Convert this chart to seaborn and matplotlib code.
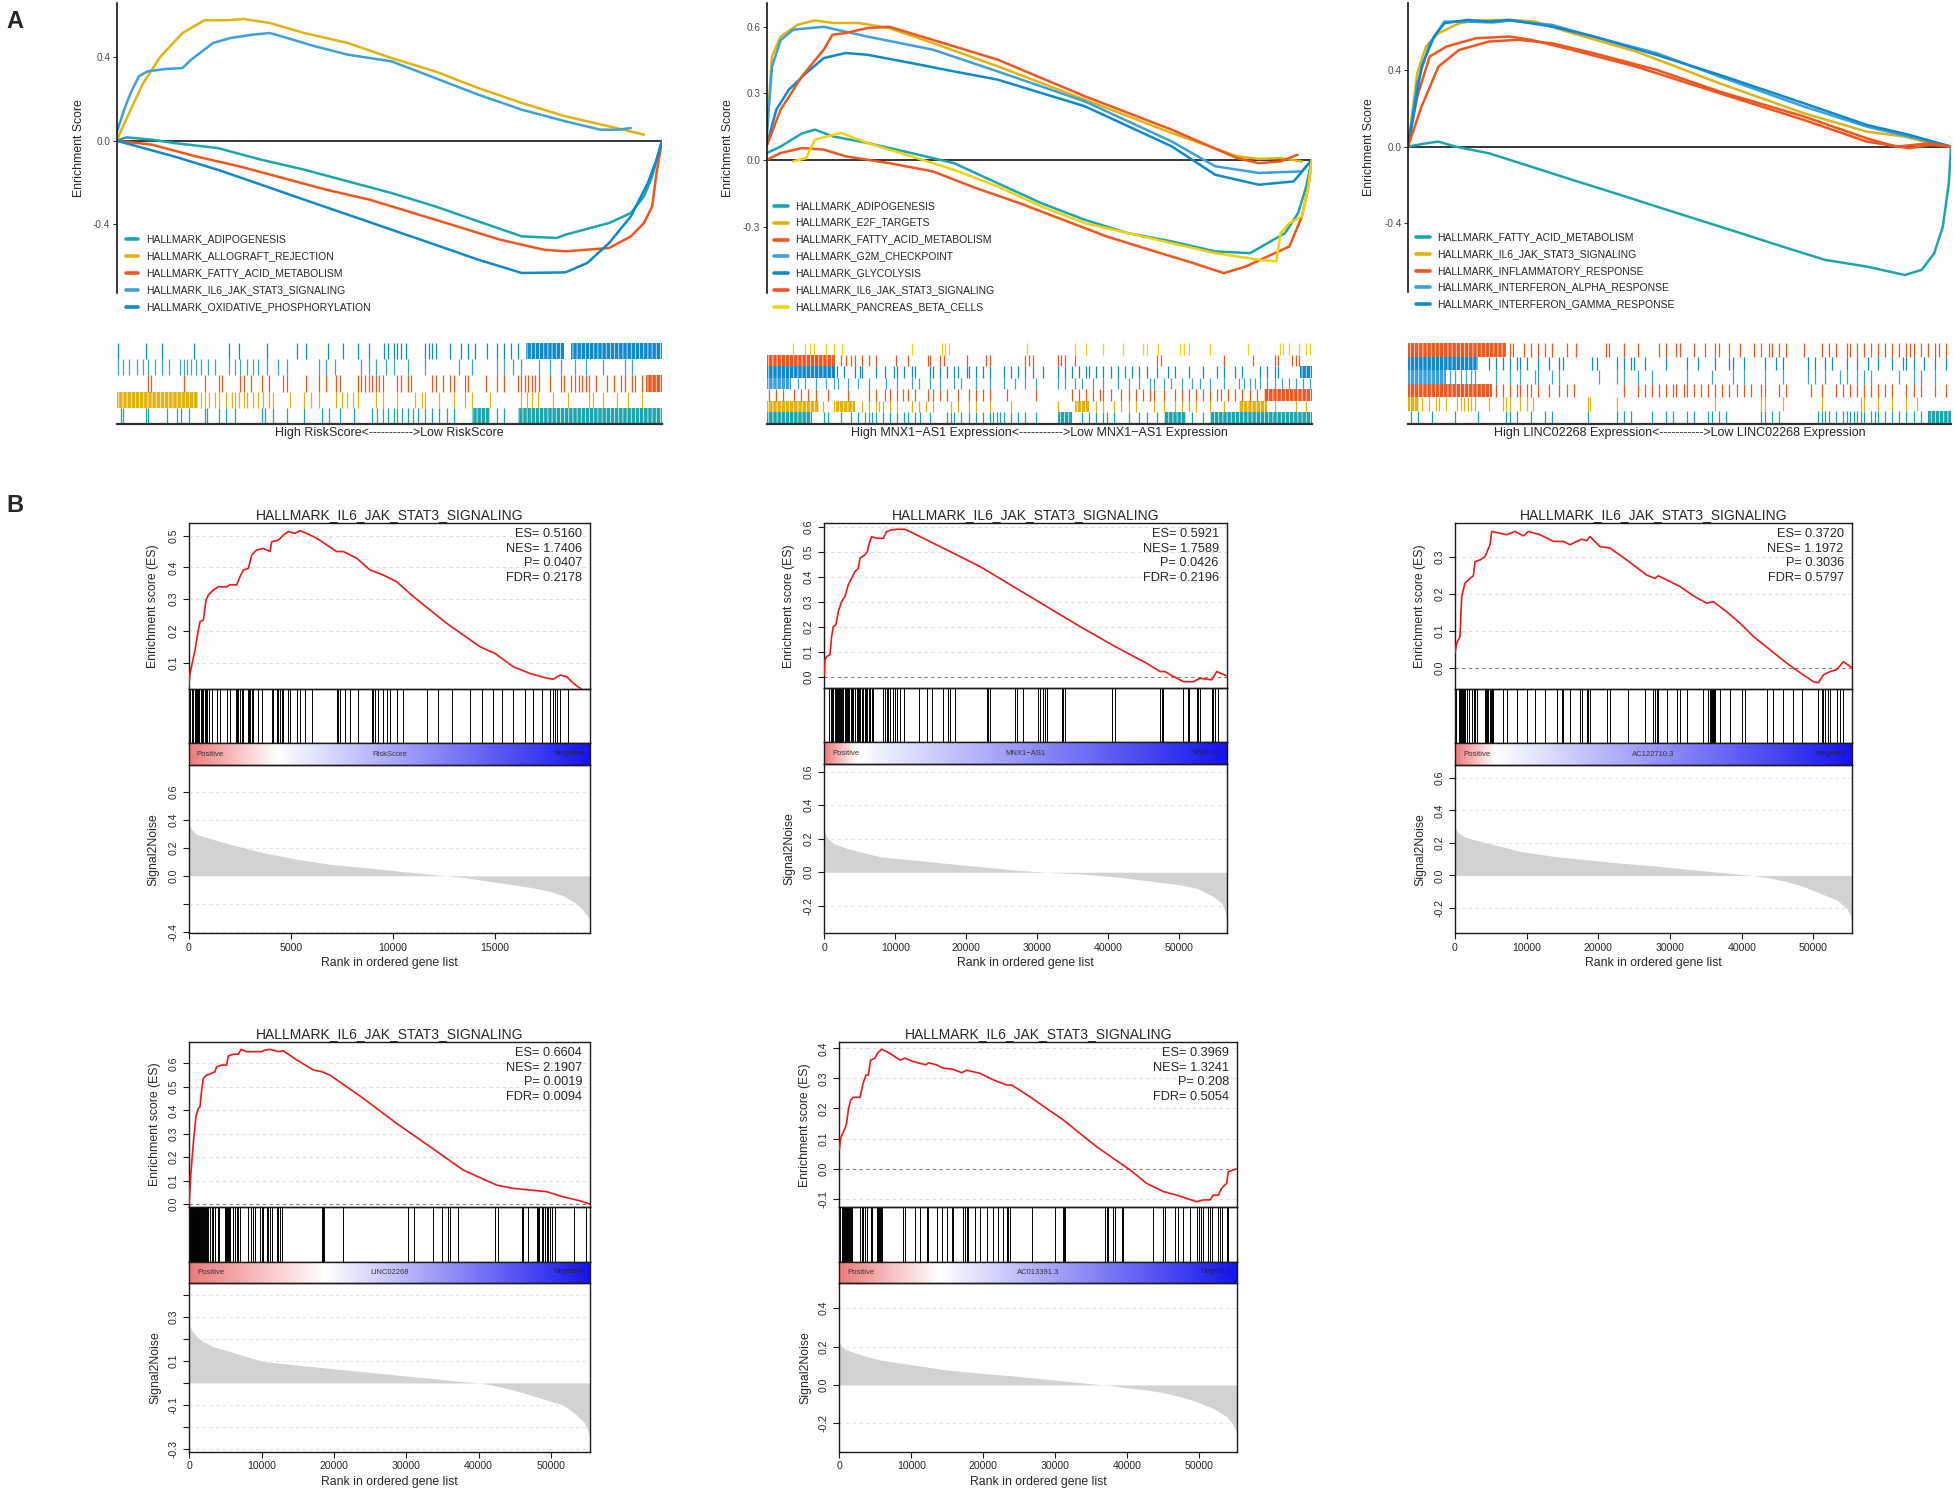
import numpy as np
import matplotlib
matplotlib.use("Agg")
import matplotlib.pyplot as plt
import seaborn as sns
from matplotlib.colors import LinearSegmentedColormap
from matplotlib.lines import Line2D

W, H = 1955, 1495

TEAL = "#1BA6AE"
GOLD = "#E2B30E"
ORANGE = "#F0561D"
LIGHTBLUE = "#3BA0DC"
BLUE = "#0E89CC"
YELLOW = "#F4D10B"

# ----------------------------------------------------------------------
# Panel A data: running ES vs position in ranked list (percent)
# ----------------------------------------------------------------------
A1_ADIPO_P = [0, 1.8, 6.5, 10.5, 18.5, 26.5, 34.4, 42.4, 50.4, 58.4, 66.3, 74.3, 80.7, 82.3, 90.3, 94.3, 96.7, 98.2, 100]
A1_ADIPO_ES = [0, 0.016, 0.005, -0.011, -0.035, -0.091, -0.139, -0.195, -0.251, -0.315, -0.387, -0.459, -0.467, -0.451, -0.395, -0.347, -0.267, -0.171, 0]
A1_ALLO_P = [0, 2.6, 4.9, 8.1, 12.1, 16.1, 20.1, 23.3, 28.1, 34.4, 42.4, 50.4, 58.4, 66.3, 74.3, 82.3, 90.3, 96.7]
A1_ALLO_ES = [0, 0.149, 0.277, 0.405, 0.517, 0.578, 0.578, 0.584, 0.565, 0.517, 0.469, 0.397, 0.333, 0.253, 0.181, 0.117, 0.069, 0.029]
A1_FATTY_P = [0, 6.5, 14.5, 22.5, 30.5, 38.4, 46.4, 54.4, 62.4, 70.3, 78.3, 82.3, 90.3, 94.3, 96.7, 98.2, 99.0, 100]
A1_FATTY_ES = [0, -0.019, -0.075, -0.123, -0.179, -0.235, -0.283, -0.347, -0.411, -0.475, -0.523, -0.531, -0.515, -0.459, -0.395, -0.315, -0.155, 0]
A1_IL6_P = [0, 1.4, 2.6, 4.1, 5.7, 8.9, 12.1, 13.7, 16.1, 17.7, 20.9, 24.9, 28.1, 31.3, 36.4, 42.4, 50.4, 58.4, 66.3, 74.3, 82.3, 88.7, 91.9, 94.3]
A1_IL6_ES = [0.037, 0.149, 0.229, 0.309, 0.333, 0.344, 0.349, 0.389, 0.437, 0.469, 0.493, 0.509, 0.517, 0.493, 0.453, 0.413, 0.381, 0.301, 0.221, 0.149, 0.093, 0.053, 0.053, 0.061]
A1_OXPHOS_P = [0, 10.5, 18.5, 26.5, 34.4, 42.4, 50.4, 58.4, 66.3, 74.3, 82.3, 86.3, 90.3, 94.3, 97.4, 99.0, 100]
A1_OXPHOS_ES = [0, -0.075, -0.139, -0.211, -0.283, -0.355, -0.427, -0.499, -0.571, -0.635, -0.632, -0.587, -0.491, -0.363, -0.203, -0.091, 0]

A2_ADIPO_P = [0, 2.6, 6.5, 8.9, 12.1, 18.5, 26.5, 34.4, 42.4, 50.4, 58.4, 66.3, 74.3, 82.3, 88.7, 91.9, 95.1, 97.5, 99.0, 100]
A2_ADIPO_ES = [0.031, 0.061, 0.12, 0.137, 0.107, 0.077, 0.032, -0.014, -0.104, -0.194, -0.269, -0.329, -0.366, -0.411, -0.419, -0.374, -0.329, -0.239, -0.119, 0]
A2_E2F_P = [0, 1.0, 2.6, 5.7, 8.9, 12.1, 16.9, 22.5, 30.5, 42.4, 58.4, 74.3, 86.3, 90.3, 94.3, 98.2]
A2_E2F_ES = [0.092, 0.467, 0.556, 0.609, 0.629, 0.617, 0.617, 0.594, 0.527, 0.422, 0.272, 0.122, 0.017, 0.005, 0.009, -0.006]
A2_FATTY_P = [0, 2.6, 6.5, 10.5, 14.5, 22.5, 30.5, 38.4, 46.4, 54.4, 62.4, 70.3, 78.3, 83.9, 87.9, 91.9, 95.9, 98.2, 99.4, 100]
A2_FATTY_ES = [0, 0.032, 0.054, 0.047, 0.017, -0.014, -0.051, -0.126, -0.194, -0.269, -0.344, -0.404, -0.464, -0.509, -0.479, -0.434, -0.389, -0.254, -0.119, 0]
A2_G2M_P = [0, 1.0, 2.6, 4.9, 10.5, 18.5, 30.5, 42.4, 58.4, 74.3, 82.3, 90.3, 98.2, 100]
A2_G2M_ES = [0.092, 0.42, 0.54, 0.587, 0.6, 0.556, 0.497, 0.399, 0.264, 0.084, -0.028, -0.058, -0.051, 0]
A2_GLYCO_P = [0, 1.8, 4.1, 7.3, 10.5, 14.5, 18.5, 26.5, 34.4, 42.4, 58.4, 74.3, 82.3, 90.3, 96.7, 100]
A2_GLYCO_ES = [0.062, 0.227, 0.317, 0.392, 0.459, 0.482, 0.474, 0.437, 0.399, 0.362, 0.242, 0.062, -0.066, -0.111, -0.096, 0]
A2_IL6_P = [0, 2.6, 6.5, 10.5, 12.1, 14.5, 18.5, 22.5, 30.5, 42.4, 58.4, 74.3, 86.3, 90.3, 94.3, 97.4]
A2_IL6_ES = [0.062, 0.227, 0.377, 0.497, 0.564, 0.572, 0.594, 0.6, 0.541, 0.452, 0.287, 0.137, 0.009, -0.014, -0.006, 0.024]
A2_PANC_P = [4.9, 7.3, 8.9, 13.7, 18.5, 26.5, 34.4, 42.4, 50.4, 58.4, 66.3, 74.3, 82.3, 90.3, 93.5, 94.3, 95.9, 98.2, 99.4, 100]
A2_PANC_ES = [-0.006, 0.009, 0.092, 0.122, 0.077, 0.017, -0.044, -0.119, -0.209, -0.284, -0.329, -0.374, -0.419, -0.449, -0.456, -0.329, -0.284, -0.254, -0.119, 0]

A3_FATTY_P = [0, 3.3, 5.6, 8.7, 14.9, 22.6, 30.3, 38.1, 45.8, 53.6, 61.3, 69.0, 76.8, 84.5, 91.5, 94.6, 96.9, 98.5, 99.6, 100]
A3_FATTY_ES = [0, 0.017, 0.026, 0, -0.035, -0.104, -0.174, -0.243, -0.313, -0.383, -0.452, -0.522, -0.591, -0.626, -0.67, -0.643, -0.557, -0.417, -0.191, 0]
A3_IL6_P = [0, 1.7, 3.3, 5.6, 9.4, 12.5, 18.7, 23.4, 30.3, 42.0, 57.4, 72.9, 84.5, 91.5, 96.1, 100]
A3_IL6_ES = [0, 0.383, 0.522, 0.591, 0.643, 0.657, 0.661, 0.652, 0.591, 0.496, 0.33, 0.174, 0.078, 0.052, 0.017, 0]
A3_INFL_P = [0, 1.7, 4.0, 7.1, 12.5, 18.7, 22.6, 30.3, 42.0, 57.4, 72.9, 84.5, 92.3, 96.1, 100]
A3_INFL_ES = [0, 0.261, 0.47, 0.522, 0.565, 0.574, 0.557, 0.504, 0.417, 0.278, 0.139, 0.026, -0.009, 0.009, 0]
A3_IFNA_P = [0, 1.7, 4.0, 6.7, 11.0, 15.6, 18.7, 26.5, 34.2, 45.8, 57.4, 72.9, 84.5, 92.3, 100]
A3_IFNA_ES = [0, 0.33, 0.539, 0.652, 0.652, 0.647, 0.657, 0.635, 0.574, 0.487, 0.365, 0.209, 0.104, 0.052, 0]
A3_IFNG_P = [0, 2.5, 4.8, 6.7, 11.0, 14.9, 18.7, 26.5, 34.2, 45.8, 57.4, 72.9, 84.5, 92.3, 100]
A3_IFNG_ES = [0, 0.417, 0.574, 0.643, 0.661, 0.652, 0.661, 0.626, 0.574, 0.478, 0.374, 0.226, 0.113, 0.061, 0]
A3_SIXTH_P = [0, 2.5, 5.6, 9.4, 14.9, 20.3, 26.5, 34.2, 45.8, 57.4, 72.9, 84.5, 89.9, 96.1, 100]
A3_SIXTH_ES = [0, 0.209, 0.417, 0.504, 0.548, 0.557, 0.539, 0.487, 0.4, 0.287, 0.157, 0.043, 0, 0.017, 0]

# hit positions (percent of ranked list); dense stretches kept as blocks
A1_OXPHOS_HITS = [0.2, 5.4, 8.3, 14.2, 20.7, 22.4, 27.6, 33.1, 34.8, 38.7, 41.6, 44.2, 46.2, 49.1, 49.8, 50.8, 51.4, 52.1, 53.0,
                  56.6, 57.3, 57.9, 58.6, 61.2, 63.1, 64.5, 65.8, 68.0, 69.7, 71.0, 72.3, 73.6]
A1_OXPHOS_BLOCKS = [(75.0, 82.0), (83.4, 100)]
A1_IL6_HITS = [0.2, 1.2, 2.2, 3.8, 4.8, 5.7, 7.0, 8.3, 9.7, 11.6, 12.3, 12.9, 13.6, 14.5, 15.5, 16.8, 18.1, 20.7, 21.7,
               22.7, 24.0, 25.0, 26.0, 27.6, 29.6, 31.2, 37.1, 38.4, 40.0, 44.9, 46.2, 47.5, 49.4, 50.8, 53.4, 56.6,
               62.8, 65.1, 69.7, 71.0, 72.6, 74.2, 77.5, 79.5, 81.4, 84.0, 86.0, 89.2, 93.2, 94.5]
A1_IL6_BLOCKS = []
A1_FATTY_HITS = [5.7, 6.4, 12.3, 16.2, 18.8, 19.4, 22.7, 23.4, 24.7, 26.6, 27.9, 30.5, 31.2, 34.8, 37.1, 38.4, 40.3, 41.0,
                 44.2, 44.9, 45.5, 46.2, 46.8, 47.5, 48.1, 48.8, 51.4, 52.1, 53.4, 54.0, 57.9, 58.6, 59.9, 61.2, 61.8,
                 63.8, 64.5, 67.7, 69.7, 71.0, 73.6, 74.2, 74.9, 75.5, 76.2, 76.8, 77.5, 79.5, 81.4, 82.1, 83.4, 84.0,
                 84.7, 85.3, 86.0, 86.6, 87.9, 89.9, 91.2, 92.5, 93.2, 94.5, 95.1, 96.4]
A1_FATTY_BLOCKS = [(97.0, 100)]
A1_ALLO_HITS = [15.5, 16.2, 17.0, 18.1, 18.8, 20.1, 21.1, 21.7, 22.4, 23.4, 24.0, 25.0, 26.0, 26.9, 27.9, 28.6, 31.8,
                34.4, 35.7, 37.1, 40.3, 41.3, 42.3, 43.3, 44.2, 47.5, 48.8, 51.4, 54.7, 56.0, 56.6, 59.2, 61.8, 63.8,
                65.1, 68.4, 74.2, 75.2, 76.2, 77.2, 80.1, 82.7, 86.6, 87.3, 89.2, 91.8, 93.8, 96.4]
A1_ALLO_BLOCKS = [(0, 15.0)]
A1_ADIPO_HITS = [0.8, 1.2, 5.4, 5.7, 9.3, 11.0, 11.9, 13.2, 16.2, 16.5, 18.8, 20.1, 21.7, 26.6, 27.3, 28.6, 31.2, 34.4,
                 37.7, 39.0, 41.0, 43.6, 46.8, 47.8, 48.8, 49.8, 50.8, 51.4, 52.4, 53.4, 54.3, 55.3, 56.6, 57.9, 59.2,
                 60.5, 61.8, 69.7, 71.0]
A1_ADIPO_BLOCKS = [(65.1, 68.4), (73.6, 100)]

A2_PANC_HITS = [4.8, 7.0, 8.0, 8.7, 11.0, 12.3, 13.9, 26.6, 32.2, 32.8, 33.5, 47.8, 56.6, 58.6, 61.8, 65.4, 69.0, 69.7,
                71.9, 75.9, 76.5, 77.5, 81.4, 88.3, 94.1, 94.8, 95.8, 97.7, 99.0, 99.7]
A2_PANC_BLOCKS = []
A2_IL6_HITS = [13.6, 14.5, 15.5, 16.2, 17.5, 18.8, 20.1, 23.7, 26.0, 29.6, 29.9, 31.8, 32.5, 36.7, 40.3, 41.0, 47.5,
               48.1, 48.8, 53.4, 54.0, 54.7, 56.6, 71.6, 72.3, 84.0, 89.2, 93.2, 93.8, 96.4, 97.1, 97.7]
A2_IL6_BLOCKS = [(0, 12.5)]
A2_GLYCO_HITS = [12.9, 14.2, 16.2, 17.2, 17.5, 20.1, 21.7, 23.4, 24.0, 25.3, 26.6, 27.3, 29.9, 30.5, 31.8, 33.1, 34.4,
                 35.1, 36.7, 37.1, 38.4, 39.7, 41.0, 43.6, 44.9, 46.2, 47.5, 48.8, 50.8, 53.4, 54.7, 56.0, 57.3, 58.6,
                 59.2, 60.5, 61.8, 63.1, 64.5, 65.8, 67.1, 68.4, 69.7, 71.6, 73.6, 74.9, 77.5, 80.1, 82.7, 84.0, 86.0,
                 87.3, 90.5, 91.8, 93.2, 93.8]
A2_GLYCO_BLOCKS = [(0, 12.5), (97.8, 100)]
A2_G2M_HITS = [5.7, 7.0, 9.0, 11.0, 12.3, 13.2, 14.9, 16.8, 18.8, 22.0, 24.0, 26.6, 27.9, 29.9, 31.8, 34.4, 35.7, 38.4,
               41.0, 43.6, 45.5, 47.5, 49.4, 53.4, 54.7, 56.6, 57.9, 59.9, 61.8, 64.5, 66.4, 68.4, 70.3, 71.0, 72.9,
               74.2, 76.2, 78.1, 79.5, 81.4, 84.0, 86.6, 87.6, 88.6, 89.6, 90.5, 91.8, 93.2, 94.5, 95.8, 97.1, 98.4, 99.7]
A2_G2M_BLOCKS = [(0, 4.5)]
A2_FATTY_HITS = [0.5, 1.8, 3.1, 5.1, 6.4, 7.7, 9.0, 11.3, 14.9, 18.8, 20.1, 21.7, 22.7, 24.0, 25.0, 26.0, 27.3, 29.6,
                 30.5, 31.8, 33.1, 35.1, 37.1, 38.4, 39.7, 41.0, 44.2, 49.4, 56.0, 57.3, 58.6, 59.9, 61.2, 61.8, 63.1,
                 65.1, 66.4, 67.7, 69.0, 70.3, 71.0, 72.9, 74.9, 76.2, 77.5, 78.8, 80.1, 81.4, 82.7, 83.4, 84.7, 86.0,
                 87.3, 88.6, 89.9]
A2_FATTY_BLOCKS = [(91.2, 100)]
A2_E2F_HITS = [10.3, 17.5, 18.8, 20.1, 20.7, 21.4, 22.7, 24.0, 26.6, 27.9, 29.2, 30.5, 33.8, 35.1, 37.1, 38.4, 41.0,
               44.9, 53.4, 60.5, 61.8, 63.8, 65.1, 66.4, 67.7, 71.0, 72.9, 74.9, 76.2, 77.5, 78.8, 81.4, 84.0, 93.2,
               97.1, 99.0]
A2_E2F_BLOCKS = [(0, 9.7), (12.3, 16.2), (56.6, 59.2), (86.6, 91.8)]
A2_ADIPO_HITS = [10.6, 11.3, 13.6, 15.5, 16.8, 18.1, 18.8, 19.4, 20.1, 21.4, 22.7, 24.0, 25.3, 26.0, 27.3, 28.2, 29.9,
                 33.1, 33.8, 34.4, 35.7, 37.1, 38.4, 39.7, 41.0, 41.6, 42.3, 42.9, 43.6, 44.9, 46.2, 47.5, 49.4, 57.9,
                 59.2, 60.5, 61.8, 62.5, 63.8, 66.4, 68.4, 69.7, 71.6, 78.1, 80.1]
A2_ADIPO_BLOCKS = [(0, 8.3), (53.4, 56.0), (73.0, 77.0), (81.4, 100)]

A3_SIXTH_HITS = [18.8, 19.4, 21.4, 22.7, 24.0, 25.3, 26.6, 29.2, 30.9, 36.4, 37.1, 39.7, 42.3, 46.2, 47.5, 49.4, 50.1,
                 52.7, 54.7, 56.6, 57.3, 59.2, 61.2, 63.8, 65.1, 66.4, 67.1, 68.4, 69.7, 72.9, 76.2, 77.5, 78.8, 80.8,
                 81.4, 82.7, 84.0, 85.3, 86.6, 87.9, 89.2, 90.5, 91.8, 92.5, 93.2, 94.5, 95.8, 97.1, 97.7, 99.0]
A3_SIXTH_BLOCKS = [(0, 18.1)]
A3_IFNG_HITS = [14.9, 16.2, 17.5, 18.8, 20.1, 20.7, 22.0, 24.0, 26.0, 27.9, 28.6, 33.8, 34.8, 38.4, 39.7, 41.0, 41.6,
                43.6, 47.5, 51.4, 53.4, 56.6, 59.2, 59.9, 61.8, 65.8, 67.7, 69.0, 73.6, 74.9, 76.8, 78.1, 80.8, 82.7,
                84.7, 86.6, 89.2, 91.2, 91.8, 93.2, 95.1, 97.1, 99.0]
A3_IFNG_BLOCKS = [(0, 12.9)]
A3_IFNA_HITS = [7.7, 8.7, 9.7, 10.6, 11.6, 12.3, 16.2, 18.8, 20.7, 23.4, 24.0, 26.6, 27.9, 35.1, 38.4, 39.7, 42.3,
                44.9, 51.4, 56.0, 59.9, 61.8, 65.8, 69.0, 73.6, 74.9, 76.8, 79.5, 80.8, 82.7, 84.0, 85.3, 90.5, 93.2,
                94.5, 97.1]
A3_IFNA_BLOCKS = [(0, 7.0)]
A3_INFL_HITS = [16.2, 17.5, 18.8, 20.1, 20.7, 22.0, 22.7, 24.0, 26.0, 27.9, 29.2, 30.5, 39.7, 42.3, 43.6, 44.9, 46.2,
                47.5, 48.8, 49.4, 50.8, 51.4, 52.7, 54.0, 55.3, 56.6, 57.9, 59.2, 60.5, 61.8, 63.1, 65.1, 65.8, 68.4,
                69.7, 74.2, 76.2, 78.8, 80.1, 81.4, 82.7, 84.0, 85.3, 86.6, 87.9, 89.2, 91.8, 93.2, 94.5, 97.1, 99.0]
A3_INFL_BLOCKS = [(0, 15.5)]
A3_IL6_HITS = [2.5, 3.8, 5.1, 5.7, 7.0, 9.0, 9.7, 10.3, 11.0, 11.6, 12.3, 14.9, 17.5, 18.1, 18.8, 20.7, 22.0, 23.0,
               33.1, 33.5, 38.4, 56.6, 65.1, 65.8, 69.0, 76.2, 83.4, 84.0, 86.6, 89.2, 91.8, 93.8]
A3_IL6_BLOCKS = [(0, 2.0)]
A3_FATTY_HITS = [0.5, 1.8, 4.4, 8.7, 12.9, 18.1, 18.8, 20.1, 22.7, 25.3, 26.6, 33.1, 38.4, 39.7, 41.0, 44.9, 47.5,
                 48.8, 51.4, 52.7, 55.3, 56.0, 57.3, 58.6, 65.1, 65.8, 67.1, 68.4, 75.5, 76.2, 76.8, 77.5, 78.8, 80.1,
                 80.8, 81.4, 82.1, 82.7, 83.4, 84.0, 85.3, 86.0, 86.6, 87.9, 89.2, 90.5, 91.8, 93.2, 94.5]
A3_FATTY_BLOCKS = [(95.8, 100)]

# ----------------------------------------------------------------------
# Panel B data: classic GSEA plots for HALLMARK_IL6_JAK_STAT3_SIGNALING
# ----------------------------------------------------------------------
B1_N = 19650
B1_ES_RANK = [0, 65, 310, 473, 555, 718, 849, 963, 1208, 1452, 1860, 2024, 2350, 2513, 2676, 2921, 3084, 3329, 3656,
              3982, 4064, 4390, 4635, 4880, 5206, 5451, 5777, 6267, 6756, 7246, 7572, 8225, 8878, 9531, 10184, 11000,
              11816, 12632, 13448, 14264, 14998, 15896, 16712, 17528, 17854, 18181, 18507, 18833, 19241]
B1_ES = [0.024, 0.066, 0.14, 0.203, 0.229, 0.234, 0.297, 0.313, 0.329, 0.339, 0.339, 0.345, 0.345, 0.371, 0.392, 0.397,
         0.439, 0.455, 0.46, 0.45, 0.481, 0.486, 0.502, 0.513, 0.507, 0.516, 0.507, 0.492, 0.471, 0.45, 0.45, 0.429,
         0.392, 0.376, 0.355, 0.308, 0.266, 0.224, 0.187, 0.15, 0.129, 0.087, 0.066, 0.051, 0.048, 0.061, 0.056, 0.035,
         0.016]
B1_HITS = [65, 147, 228, 310, 359, 392, 441, 473, 522, 588, 637, 718, 800, 849, 914, 996, 1126, 1404, 1534, 1860, 2024,
           2317, 2350, 2383, 2432, 2513, 2595, 2676, 2921, 2970, 3003, 3084, 3166, 3411, 3574, 4064, 4113, 4145, 4308,
           4390, 4472, 4553, 4635, 4880, 4962, 5288, 5451, 5696, 6022, 7246, 7328, 7409, 7654, 7899, 8307, 8960, 9041,
           9123, 9286, 9531, 9694, 9857, 10184, 10510, 11652, 12224, 12876, 13774, 14345, 14916, 15324, 15896, 16467,
           16875, 17283, 17691, 17854, 17936, 18017, 18181, 18589]
B1_S2N_RANK = [0, 147, 392, 1208, 2024, 3656, 5288, 6919, 8551, 10184, 11816, 12632, 13448, 15080, 16712, 17528, 18344,
               18996, 19322, 19567, 19649]
B1_S2N = [0.365, 0.33, 0.294, 0.259, 0.224, 0.165, 0.118, 0.082, 0.059, 0.035, 0.012, 0.0, -0.012, -0.047, -0.082,
          -0.106, -0.141, -0.2, -0.247, -0.294, -0.33]
B1_STATS = ["ES= 0.5160", "NES= 1.7406", "P= 0.0407", "FDR= 0.2178"]

B2_N = 56729
B2_ES_RANK = [0, 94, 329, 799, 1034, 1269, 1645, 1974, 2444, 2914, 3384, 3854, 4324, 4794, 5029, 5734, 6063, 6345, 6674,
              7379, 8319, 8789, 9494, 10199, 11374, 12549, 14899, 17249, 21949, 26649, 31349, 36049, 40749, 45449,
              47329, 48034, 49209, 50619, 52029, 52969, 54614, 55319, 56729]
B2_ES = [0.007, 0.067, 0.08, 0.087, 0.16, 0.2, 0.207, 0.26, 0.3, 0.32, 0.367, 0.393, 0.42, 0.433, 0.473, 0.487, 0.5,
         0.533, 0.56, 0.553, 0.553, 0.58, 0.587, 0.589, 0.589, 0.573, 0.54, 0.507, 0.44, 0.36, 0.28, 0.2, 0.124,
         0.053, 0.02, 0.02, 0.0, -0.02, -0.021, -0.007, -0.013, 0.02, 0.003]
B2_HITS = [705, 893, 1034, 1269, 1504, 1645, 1739, 1974, 2115, 2209, 2350, 2444, 2585, 2679, 2914, 3055, 3149, 3290,
           3384, 3525, 3713, 3854, 4089, 4324, 4559, 4794, 4935, 5029, 5264, 5499, 5734, 5875, 6063, 6345, 6439, 6674,
           6815, 8319, 8554, 8789, 9024, 9259, 9729, 9964, 10199, 10669, 11233, 13395, 14429, 15134, 16779, 17484,
           17719, 18424, 22889, 23124, 23359, 26884, 27119, 28059, 30174, 30409, 30879, 31114, 31349, 33464, 33699,
           33934, 40514, 40984, 47329, 47564, 47799, 50619, 51324, 51465, 52499, 52734, 52969, 54614, 54849, 55084,
           55554]
B2_S2N_RANK = [0, 329, 1269, 3149, 5499, 7849, 12549, 17249, 21949, 26649, 31349, 36049, 40749, 45449, 50149, 52499,
               54849, 56024, 56494, 56729]
B2_S2N = [0.242, 0.212, 0.172, 0.143, 0.117, 0.093, 0.073, 0.053, 0.034, 0.014, 0.0, -0.01, -0.026, -0.05, -0.075,
          -0.095, -0.145, -0.184, -0.234, -0.283]
B2_STATS = ["ES= 0.5921", "NES= 1.7589", "P= 0.0426", "FDR= 0.2196"]

B3_N = 55335
B3_ES_RANK = [0, 233, 698, 930, 1395, 2093, 2558, 2790, 3488, 4185, 4883, 5115, 6278, 7208, 8370, 9533, 10230, 11858,
              13718, 15113, 16043, 16973, 17670, 18368, 18833, 20228, 21623, 23948, 26738, 27900, 28365, 29528, 31388,
              33248, 35108, 36038, 37898, 39758, 41618, 43943, 46268, 48593, 49988, 50685, 51383, 52313, 53243, 54173,
              55335]
B3_ES = [0.039, 0.066, 0.084, 0.192, 0.228, 0.241, 0.248, 0.286, 0.291, 0.3, 0.332, 0.368, 0.363, 0.359, 0.368, 0.356,
         0.368, 0.359, 0.341, 0.341, 0.332, 0.341, 0.347, 0.343, 0.354, 0.327, 0.323, 0.291, 0.25, 0.241, 0.248, 0.237,
         0.219, 0.194, 0.174, 0.178, 0.151, 0.12, 0.084, 0.048, 0.012, -0.02, -0.038, -0.041, -0.02, -0.011, -0.006,
         0.016, 0.0]
B3_HITS = [140, 605, 698, 791, 930, 1070, 1163, 1256, 1395, 1628, 2000, 2325, 2651, 2790, 3023, 4185, 4325, 4418, 4650,
           4883, 4976, 5115, 5255, 6743, 7301, 8603, 9998, 11160, 12555, 14183, 14880, 15113, 16043, 17438, 17670,
           18368, 18600, 18833, 21158, 21623, 24180, 26505, 27668, 27900, 28133, 28365, 29528, 30923, 31388, 32318,
           34643, 35340, 35573, 35666, 35805, 35945, 36038, 36131, 36270, 36968, 38363, 39990, 40455, 43478, 44408,
           45803, 47198, 48360, 50685, 51150, 51383, 51615, 52080, 52313, 53243, 53708, 54173]
B3_S2N_RANK = [0, 465, 1163, 2558, 4418, 6743, 9068, 13718, 18368, 23018, 27668, 32318, 36968, 41618, 43943, 46268,
               48593, 50918, 53243, 54638, 55103, 55335]
B3_S2N = [0.293, 0.262, 0.241, 0.221, 0.2, 0.175, 0.148, 0.118, 0.097, 0.076, 0.06, 0.039, 0.019, 0.0, -0.016, -0.037,
          -0.068, -0.109, -0.151, -0.202, -0.243, -0.295]
B3_STATS = ["ES= 0.3720", "NES= 1.1972", "P= 0.3036", "FDR= 0.5797"]

B4_N = 55412
B4_ES_RANK = [0, 184, 553, 922, 1245, 1475, 1706, 1936, 2397, 3089, 3550, 3780, 4472, 5163, 5394, 6085, 6777, 7146,
              7929, 9312, 10004, 10465, 11156, 12309, 13000, 14844, 17149, 18302, 19454, 24064, 28674, 33284, 37894,
              42504, 44809, 47114, 49419, 51724, 54029, 55412]
B4_ES = [0.003, 0.117, 0.259, 0.373, 0.408, 0.415, 0.486, 0.536, 0.55, 0.558, 0.565, 0.586, 0.593, 0.593, 0.632, 0.639,
         0.639, 0.66, 0.65, 0.65, 0.65, 0.657, 0.66, 0.65, 0.654, 0.615, 0.572, 0.565, 0.55, 0.451, 0.344, 0.245, 0.145,
         0.081, 0.067, 0.06, 0.053, 0.031, 0.014, 0.0]
B4_HITS = [46, 138, 231, 323, 415, 507, 599, 692, 784, 876, 968, 1060, 1153, 1245, 1337, 1475, 1614, 1706, 1844, 2028,
           2167, 2305, 2489, 2628, 2858, 3089, 3319, 3550, 4011, 4149, 4933, 5071, 5163, 5255, 5394, 5532, 5624, 5993,
           6316, 6546, 6777, 7007, 8160, 8482, 8851, 9082, 9773, 10004, 10234, 10695, 10926, 11156, 11387, 12078,
           12309, 12539, 12770, 18302, 18440, 18532, 18624, 21298, 30288, 31071, 33745, 34898, 35820, 36050, 37203,
           42274, 42735, 45962, 46100, 46884, 48128, 48267, 48405, 48728, 48958, 49189, 49419, 49650, 49880, 50111,
           50572, 53199, 54859]
B4_S2N_RANK = [0, 323, 1014, 1936, 3319, 5624, 7929, 10234, 14844, 19454, 24064, 28674, 33284, 37894, 40199, 42504,
               44809, 47114, 49419, 51724, 53568, 54721, 55182, 55412]
B4_S2N = [0.262, 0.24, 0.21, 0.187, 0.164, 0.142, 0.119, 0.097, 0.081, 0.066, 0.051, 0.036, 0.021, 0.006, 0.0, -0.014,
          -0.032, -0.054, -0.077, -0.1, -0.145, -0.183, -0.22, -0.25]
B4_STATS = ["ES= 0.6604", "NES= 2.1907", "P= 0.0019", "FDR= 0.0094"]

B5_N = 55282
B5_ES_RANK = [0, 185, 463, 787, 1019, 1250, 1574, 1945, 2871, 3102, 3334, 3704, 4028, 4352, 4954, 5278, 5880, 7038,
              8427, 9121, 10279, 11205, 12038, 12362, 13520, 14446, 15835, 16992, 17687, 19539, 21391, 23243, 23937,
              26484, 28799, 31114, 33429, 35744, 38059, 40374, 42689, 45004, 46856, 48245, 49634, 50560, 51486, 51949,
              52643, 53106, 53801, 54032, 55282]
B5_ES = [0.062, 0.101, 0.117, 0.134, 0.151, 0.195, 0.228, 0.237, 0.237, 0.261, 0.286, 0.311, 0.311, 0.361, 0.367,
         0.383, 0.397, 0.383, 0.361, 0.367, 0.356, 0.35, 0.345, 0.352, 0.345, 0.334, 0.33, 0.319, 0.327, 0.317, 0.295,
         0.278, 0.278, 0.239, 0.2, 0.162, 0.117, 0.073, 0.034, -0.004, -0.049, -0.076, -0.088, -0.099, -0.11, -0.104,
         -0.104, -0.088, -0.088, -0.065, -0.049, -0.01, 0.0]
B5_HITS = [93, 324, 463, 648, 787, 926, 1019, 1111, 1250, 1389, 1482, 1574, 1713, 2871, 3102, 3334, 3565, 3797, 4352,
           4491, 5186, 5417, 5556, 5649, 5741, 5880, 8890, 9121, 10510, 11205, 12131, 12362, 13520, 14214, 14909,
           15603, 15835, 17224, 17455, 17687, 17918, 18844, 19539, 20465, 21391, 22085, 22780, 23243, 23474, 23706,
           26715, 29956, 31021, 31206, 31345, 36901, 37133, 37364, 38059, 38290, 39216, 39448, 43615, 45004, 45235,
           46624, 47087, 47782, 48708, 49634, 50004, 50189, 50560, 51255, 51486, 51718, 52643, 52874, 53106, 53801,
           54032]
B5_S2N_RANK = [0, 324, 1019, 2408, 3797, 5649, 7964, 10279, 14909, 19539, 24169, 28799, 33429, 38059, 40374, 42689,
               45004, 47319, 49634, 51949, 53801, 54727, 55282]
B5_S2N = [0.226, 0.2, 0.183, 0.165, 0.148, 0.13, 0.117, 0.104, 0.078, 0.061, 0.047, 0.03, 0.012, -0.005, -0.017,
          -0.026, -0.04, -0.061, -0.087, -0.122, -0.165, -0.209, -0.252]
B5_STATS = ["ES= 0.3969", "NES= 1.3241", "P= 0.208", "FDR= 0.5054"]


# ----------------------------------------------------------------------
sns.set_theme(style="white")
plt.rcParams["font.family"] = ["Liberation Sans", "DejaVu Sans"]
plt.rcParams["axes.unicode_minus"] = False
plt.rcParams["hatch.linewidth"] = 0.5

fig = plt.figure(figsize=(W / 100, H / 100), dpi=100)
fig.patch.set_facecolor("white")


def add_ax(left, top, right, bottom):
    return fig.add_axes([left / W, 1 - bottom / H, (right - left) / W, (bottom - top) / H])


def fx(x):
    return x / W


def fy(y):
    return 1 - y / H


# ----------------------------------------------------------------------
# Panel A: multi gene set running score + rug
# ----------------------------------------------------------------------
def draw_panel_a(box, ylim, yticks, sets, legend, ylab_x, caption):
    left, right, top, bottom = box
    ax = add_ax(left, top, right, bottom)
    ax.set_facecolor("none")
    ax.axhline(0, color="black", lw=1.1, zorder=1)
    for name, color, p, es, hits, blocks in sets:
        sns.lineplot(x=p, y=es, ax=ax, color=color, linewidth=1.8, estimator=None, sort=False, zorder=2)
    ax.set_xlim(0, 100)
    ax.set_ylim(*ylim)
    ax.set_xticks([])
    ax.set_yticks(yticks)
    ax.set_yticklabels([f"{t:.1f}" for t in yticks], color="#4D4D4D", fontsize=7.2)
    ax.tick_params(axis="y", length=3, width=0.8, pad=1.5, color="#333333", left=True)
    for s in ["top", "right", "bottom"]:
        ax.spines[s].set_visible(False)
    ax.spines["left"].set_color("black")
    ax.spines["left"].set_linewidth(1.1)
    ax.set_xlabel("")
    ax.set_ylabel("")
    fig.text(fx(ylab_x), fy((top + bottom) / 2), "Enrichment Score", rotation=90,
             ha="center", va="center", fontsize=8.8)

    # legend drawn in figure coordinates
    lx0, lx1, tx, y0, dy = legend
    for i, (name, color, *_rest) in enumerate(sets):
        if not name:
            continue
        yy = fy(y0 + i * dy)
        fig.add_artist(Line2D([fx(lx0), fx(lx1)], [yy, yy], color=color, lw=2.6, transform=fig.transFigure))
        fig.text(fx(tx), yy, name, ha="left", va="center", fontsize=7.5)

    # rug of hits
    rug = add_ax(left, 343, right, 424)
    n = len(sets)
    for i, (name, color, p, es, hits, blocks) in enumerate(sets):
        rug.vlines(hits, i, i + 1, color=color, lw=0.9)
        if blocks:
            rug.broken_barh([(a, b - a) for a, b in blocks], (i, 1), facecolors=color,
                            edgecolors="white", hatch="||||", linewidth=0)
    rug.set_xlim(0, 100)
    rug.set_ylim(0, n)
    rug.set_xticks([])
    rug.set_yticks([])
    for s in ["top", "right", "left"]:
        rug.spines[s].set_visible(False)
    rug.spines["bottom"].set_color("#333333")
    rug.spines["bottom"].set_linewidth(1.6)
    fig.text(fx((left + right) / 2), fy(433), caption, ha="center", va="center", fontsize=9)


fig.text(fx(15), fy(22), "A", fontsize=17, fontweight="bold", ha="center", va="center")
fig.text(fx(15), fy(505), "B", fontsize=17, fontweight="bold", ha="center", va="center")

draw_panel_a(
    (116.5, 662, 3, 293), (-0.731, 0.661), [-0.4, 0.0, 0.4],
    [("HALLMARK_ADIPOGENESIS", TEAL, A1_ADIPO_P, A1_ADIPO_ES, A1_ADIPO_HITS, A1_ADIPO_BLOCKS),
     ("HALLMARK_ALLOGRAFT_REJECTION", GOLD, A1_ALLO_P, A1_ALLO_ES, A1_ALLO_HITS, A1_ALLO_BLOCKS),
     ("HALLMARK_FATTY_ACID_METABOLISM", ORANGE, A1_FATTY_P, A1_FATTY_ES, A1_FATTY_HITS, A1_FATTY_BLOCKS),
     ("HALLMARK_IL6_JAK_STAT3_SIGNALING", LIGHTBLUE, A1_IL6_P, A1_IL6_ES, A1_IL6_HITS, A1_IL6_BLOCKS),
     ("HALLMARK_OXIDATIVE_PHOSPHORYLATION", BLUE, A1_OXPHOS_P, A1_OXPHOS_ES, A1_OXPHOS_HITS, A1_OXPHOS_BLOCKS)],
    (126, 138, 146.5, 239.3, 17.0), 79,
    "High RiskScore<----------->Low RiskScore")

draw_panel_a(
    (766.5, 1311.7, 3, 292.7), (-0.597, 0.707), [-0.3, 0.0, 0.3, 0.6],
    [("HALLMARK_ADIPOGENESIS", TEAL, A2_ADIPO_P, A2_ADIPO_ES, A2_ADIPO_HITS, A2_ADIPO_BLOCKS),
     ("HALLMARK_E2F_TARGETS", GOLD, A2_E2F_P, A2_E2F_ES, A2_E2F_HITS, A2_E2F_BLOCKS),
     ("HALLMARK_FATTY_ACID_METABOLISM", ORANGE, A2_FATTY_P, A2_FATTY_ES, A2_FATTY_HITS, A2_FATTY_BLOCKS),
     ("HALLMARK_G2M_CHECKPOINT", LIGHTBLUE, A2_G2M_P, A2_G2M_ES, A2_G2M_HITS, A2_G2M_BLOCKS),
     ("HALLMARK_GLYCOLYSIS", BLUE, A2_GLYCO_P, A2_GLYCO_ES, A2_GLYCO_HITS, A2_GLYCO_BLOCKS),
     ("HALLMARK_IL6_JAK_STAT3_SIGNALING", ORANGE, A2_IL6_P, A2_IL6_ES, A2_IL6_HITS, A2_IL6_BLOCKS),
     ("HALLMARK_PANCREAS_BETA_CELLS", YELLOW, A2_PANC_P, A2_PANC_ES, A2_PANC_HITS, A2_PANC_BLOCKS)],
    (774, 788, 794.8, 205.7, 16.9), 728,
    "High MNX1\u2212AS1 Expression<----------->Low MNX1\u2212AS1 Expression")

# sixth gene set of this panel: its legend entry is cut off in the original figure
draw_panel_a(
    (1408, 1951, 3, 291.7), (-0.757, 0.749), [-0.4, 0.0, 0.4],
    [("HALLMARK_FATTY_ACID_METABOLISM", TEAL, A3_FATTY_P, A3_FATTY_ES, A3_FATTY_HITS, A3_FATTY_BLOCKS),
     ("HALLMARK_IL6_JAK_STAT3_SIGNALING", GOLD, A3_IL6_P, A3_IL6_ES, A3_IL6_HITS, A3_IL6_BLOCKS),
     ("HALLMARK_INFLAMMATORY_RESPONSE", ORANGE, A3_INFL_P, A3_INFL_ES, A3_INFL_HITS, A3_INFL_BLOCKS),
     ("HALLMARK_INTERFERON_ALPHA_RESPONSE", LIGHTBLUE, A3_IFNA_P, A3_IFNA_ES, A3_IFNA_HITS, A3_IFNA_BLOCKS),
     ("HALLMARK_INTERFERON_GAMMA_RESPONSE", BLUE, A3_IFNG_P, A3_IFNG_ES, A3_IFNG_HITS, A3_IFNG_BLOCKS),
     ("", ORANGE, A3_SIXTH_P, A3_SIXTH_ES, A3_SIXTH_HITS, A3_SIXTH_BLOCKS)],
    (1415.5, 1430, 1437.4, 237.3, 16.7), 1369,
    "High LINC02268 Expression<----------->Low LINC02268 Expression")


# ----------------------------------------------------------------------
# Panel B: classic GSEA enrichment plots
# ----------------------------------------------------------------------
def draw_panel_b(left, right, top, es_bot, hit_bot, cb_bot, s2n_bot, n, es_rank, es, es_ylim, es_ticks,
                 hits, s2n_rank, s2n, s2n_ylim, s2n_ticks, s2n_labels, xticks, stats, gene, white_pos, ylab_x):
    cx = (left + right) / 2
    fig.text(fx(cx), fy(top - 8.5), "HALLMARK_IL6_JAK_STAT3_SIGNALING", ha="center", va="center", fontsize=10)

    # running enrichment score
    ax = add_ax(left, top, right, es_bot)
    for t in es_ticks:
        ax.axhline(t, color="#808080" if abs(t) < 1e-9 else "#DCDCDC", lw=0.8, ls=(0, (3, 3)), zorder=1)
    sns.lineplot(x=es_rank, y=es, ax=ax, color="#F01818", linewidth=1.2, estimator=None, sort=False, zorder=3)
    ax.set_xlim(0, n)
    ax.set_ylim(*es_ylim)
    ax.set_xticks([])
    ax.set_yticks(es_ticks)
    ax.set_yticklabels([f"{t:.1f}" for t in es_ticks], fontsize=7.6, rotation=90, va="center")
    ax.set_xlabel("")
    ax.set_ylabel("")
    for i, s in enumerate(stats):
        fig.text(fx(right - 8), fy(top + 11 + i * 14.5), s, ha="right", va="center", fontsize=9.2)
    fig.text(fx(ylab_x), fy((top + es_bot) / 2), "Enrichment score (ES)", rotation=90,
             ha="center", va="center", fontsize=8.8)

    # hits
    hx = add_ax(left, es_bot, right, hit_bot)
    hx.vlines(hits, 0, 1, color="black", lw=0.7)
    hx.set_xlim(0, n)
    hx.set_ylim(0, 1)
    hx.set_xticks([])
    hx.set_yticks([])

    # ranked list colour bar
    cb = add_ax(left, hit_bot, right, cb_bot)
    cmap = LinearSegmentedColormap.from_list(
        "pn", [(0, "#EE7A7A"), (white_pos, "#FFFFFF"), (1, "#1414EE")])
    cb.imshow(np.linspace(0, 1, 512)[None, :], aspect="auto", cmap=cmap, extent=(0, n, 0, 1))
    cb.set_xlim(0, n)
    cb.set_ylim(0, 1)
    cb.set_xticks([])
    cb.set_yticks([])
    cb.grid(False)
    cb.text(0.02, 0.5, "Positive", transform=cb.transAxes, ha="left", va="center", fontsize=5.5, color="#333333")
    cb.text(0.5, 0.5, gene, transform=cb.transAxes, ha="center", va="center", fontsize=5.5, color="#333333")
    cb.text(0.985, 0.55, "Negative", transform=cb.transAxes, ha="right", va="center", fontsize=5.5, color="#222244")

    # signal to noise
    sx = add_ax(left, cb_bot, right, s2n_bot)
    for t in s2n_ticks:
        if abs(t) > 1e-9:
            sx.axhline(t, color="#E2E2E2", lw=0.8, ls=(0, (3, 3)), zorder=1)
    sx.fill_between(s2n_rank, s2n, 0, color="#D2D2D2", lw=0, zorder=2)
    sx.set_xlim(0, n)
    sx.set_ylim(*s2n_ylim)
    sx.set_yticks(s2n_ticks)
    sx.set_yticklabels(s2n_labels, fontsize=7.6, rotation=90, va="center")
    sx.set_xticks(xticks)
    sx.set_xticklabels([str(x) for x in xticks], fontsize=7.6)
    fig.text(fx(ylab_x), fy((cb_bot + s2n_bot) / 2), "Signal2Noise", rotation=90,
             ha="center", va="center", fontsize=8.8)
    fig.text(fx(cx), fy(s2n_bot + 30), "Rank in ordered gene list", ha="center", va="center", fontsize=8.8)

    for a in (ax, hx, cb, sx):
        a.set_facecolor("none")
        for s in a.spines.values():
            s.set_visible(True)
            s.set_color("#1A1A1A")
            s.set_linewidth(1.0)
        a.tick_params(axis="both", length=4, width=0.8, color="#1A1A1A", pad=3, left=True, bottom=True)
        a.grid(False)
    ax.tick_params(axis="y", pad=3.5)
    sx.tick_params(axis="y", pad=3.5)


def fmt(ticks, show):
    return [f"{t:.1f}" if s else "" for t, s in zip(ticks, show)]


s2n_t1 = [-0.4, -0.2, 0.0, 0.2, 0.4, 0.6]
draw_panel_b(188.7, 590, 523.3, 689, 743.3, 765, 933.3, B1_N, B1_ES_RANK, B1_ES, (0.017, 0.539),
             [0.1, 0.2, 0.3, 0.4, 0.5], B1_HITS, B1_S2N_RANK, B1_S2N, (-0.41, 0.79), s2n_t1,
             fmt(s2n_t1, [1, 0, 1, 1, 1, 1]), [0, 5000, 10000, 15000], B1_STATS, "RiskScore", 0.22, 153)

s2n_t2 = [-0.2, 0.0, 0.2, 0.4, 0.6]
draw_panel_b(824.3, 1226.7, 523.3, 688.3, 742.3, 764.3, 933.3, B2_N, B2_ES_RANK, B2_ES, (-0.047, 0.613),
             [0.0, 0.1, 0.2, 0.3, 0.4, 0.5, 0.6], B2_HITS, B2_S2N_RANK, B2_S2N, (-0.364, 0.644), s2n_t2,
             fmt(s2n_t2, [1] * 5), [0, 10000, 20000, 30000, 40000, 50000], B2_STATS, "MNX1\u2212AS1", 0.08, 789)

draw_panel_b(1455, 1851.7, 523.3, 689, 743.3, 765, 933.3, B3_N, B3_ES_RANK, B3_ES, (-0.058, 0.39),
             [0.0, 0.1, 0.2, 0.3], B3_HITS, B3_S2N_RANK, B3_S2N, (-0.356, 0.68), s2n_t2,
             fmt(s2n_t2, [1] * 5), [0, 10000, 20000, 30000, 40000, 50000], B3_STATS, "AC122710.3", 0.1, 1420)

s2n_t4 = [-0.3, -0.2, -0.1, 0.0, 0.1, 0.2, 0.3, 0.4]
draw_panel_b(189.3, 590, 1042.3, 1206.7, 1261.7, 1283.3, 1451.7, B4_N, B4_ES_RANK, B4_ES, (-0.011, 0.69),
             [0.0, 0.1, 0.2, 0.3, 0.4, 0.5, 0.6], B4_HITS, B4_S2N_RANK, B4_S2N, (-0.311, 0.451), s2n_t4,
             fmt(s2n_t4, [1, 0, 1, 0, 1, 0, 1, 0]), [0, 10000, 20000, 30000, 40000, 50000], B4_STATS,
             "LINC02268", 0.34, 155)

s2n_t5 = [-0.2, 0.0, 0.2, 0.4]
draw_panel_b(839.3, 1237.3, 1042.3, 1207.3, 1261.7, 1283.3, 1451.7, B5_N, B5_ES_RANK, B5_ES, (-0.1285, 0.42),
             [-0.1, 0.0, 0.1, 0.2, 0.3, 0.4], B5_HITS, B5_S2N_RANK, B5_S2N, (-0.348, 0.53), s2n_t5,
             fmt(s2n_t5, [1] * 4), [0, 10000, 20000, 30000, 40000, 50000], B5_STATS, "AC013391.3", 0.25, 805)

fig.savefig("out.png", dpi=100, facecolor="white")
